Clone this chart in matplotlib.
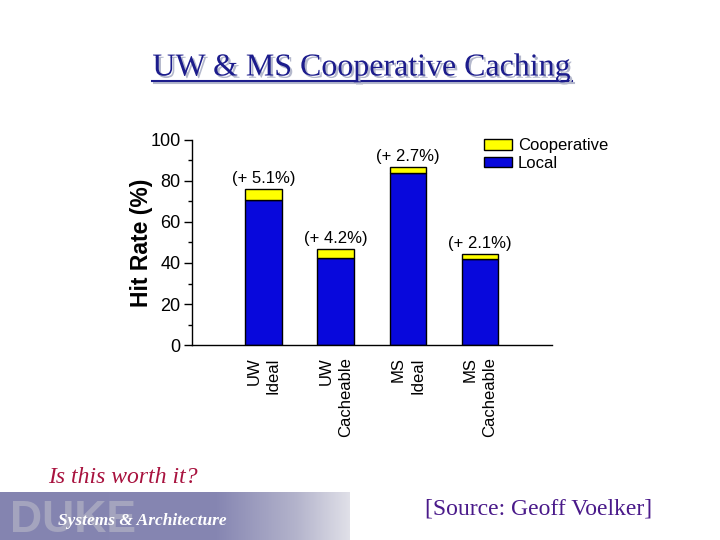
import numpy as np
import matplotlib
matplotlib.use("Agg")
import matplotlib.pyplot as plt
import matplotlib.patheffects as pe
from matplotlib.patches import Patch
from matplotlib.lines import Line2D
from matplotlib.colors import LinearSegmentedColormap

# data
categories = ["UW\nIdeal", "UW\nCacheable", "MS\nIdeal", "MS\nCacheable"]
local = [70.8, 42.5, 84.0, 42.1]
cooperative = [5.1, 4.2, 2.7, 2.1]

blue = "#0808dc"
yellow = "#ffff00"
sans = "Liberation Sans"
serif = "Liberation Serif"

fig = plt.figure(figsize=(7.2, 5.4), dpi=100)
fig.patch.set_facecolor("white")

# main chart
ax = fig.add_axes([0.266, 0.361, 0.501, 0.380])
x = np.arange(len(categories))
ax.bar(x, local, width=0.51, color=blue, edgecolor="black", linewidth=1)
ax.bar(x, cooperative, width=0.51, bottom=local, color=yellow, edgecolor="black", linewidth=1)

for xi, lo, co in zip(x, local, cooperative):
    ax.text(xi, lo + co + 1.5, f"(+ {co:.1f}%)", ha="center", va="bottom",
            fontsize=12, family=sans)

ax.set_xlim(-1, 4)
ax.set_ylim(0, 100)
ax.set_yticks(range(0, 101, 20))
ax.set_yticks(range(0, 101, 10), minor=True)
ax.set_xticks(x)
ax.set_xticklabels(categories, rotation=90, ha="center", va="top",
                   multialignment="right", fontsize=12, family=sans,
                   linespacing=1.35)
ax.tick_params(axis="x", length=0, pad=9)
ax.tick_params(axis="y", which="major", length=6, width=1, pad=2, labelsize=13)
ax.tick_params(axis="y", which="minor", length=3, width=1)
for lbl in ax.get_yticklabels():
    lbl.set_family(sans)
for s in ["top", "right"]:
    ax.spines[s].set_visible(False)
ax.spines["left"].set_linewidth(1)
ax.spines["bottom"].set_linewidth(1)

ax.set_ylabel("Hit Rate (%)", fontsize=16.5, fontweight="bold", family=sans)
ax.yaxis.set_label_coords(-0.108, 0.5)

handles = [Patch(facecolor=yellow, edgecolor="black", label="Cooperative"),
           Patch(facecolor=blue, edgecolor="black", label="Local")]
fig.legend(handles=handles, loc="upper left", bbox_to_anchor=(0.672, 0.744),
           frameon=False, prop={"family": sans, "size": 12}, handlelength=1.7,
           handleheight=0.6, handletextpad=0.35, labelspacing=0.15,
           borderpad=0, borderaxespad=0)

# slide title with shadow and underline
title_color = "#1c1c8c"
shadow = [pe.SimplePatchShadow(offset=(1.6, -1.6), shadow_rgbFace="#b4b8cc", alpha=1),
          pe.Normal()]
fig.text(0.5028, 1 - 75.5 / 540, "UW & MS Cooperative Caching", ha="center",
         va="baseline", fontsize=23, family=serif, color=title_color,
         path_effects=shadow)
uy = 1 - 81 / 540
fig.add_artist(Line2D([152 / 720, 572 / 720], [uy, uy], color=title_color, lw=1.5,
                      path_effects=[pe.SimpleLineShadow(offset=(1.6, -1.6),
                                                        shadow_color="#b4b8cc", alpha=1),
                                    pe.Normal()]))

fig.text(48 / 720, 1 - 483 / 540, "Is this worth it?", fontsize=17, family=serif,
         style="italic", color="#a8123e", va="baseline")
fig.text(425 / 720, 1 - 514 / 540, "[Source: Geoff Voelker]", fontsize=17,
         family=serif, color="#4a1a8a", va="baseline")

# Duke banner
lax = fig.add_axes([0, 0, 350 / 720, 48 / 540])
cmap = LinearSegmentedColormap.from_list(
    "duke", [(0, "#8484b0"), (0.62, "#8686b2"), (0.85, "#b4b4cc"), (1, "#e0e0e8")])
grad = np.linspace(0, 1, 256).reshape(1, -1)
lax.imshow(grad, aspect="auto", cmap=cmap, extent=[0, 1, 0, 1])
lax.set_xlim(0, 1)
lax.set_ylim(0, 1)
lax.axis("off")
lax.text(0.028, 0.17, "DUKE", fontsize=32, fontweight="bold", family=sans,
         color="#a4a4be", va="baseline")
lax.text(0.166, 0.31, "Systems & Architecture", fontsize=12.5, fontweight="bold",
         style="italic", family=serif, color="white", va="baseline")

fig.savefig("out.png", dpi=100)
